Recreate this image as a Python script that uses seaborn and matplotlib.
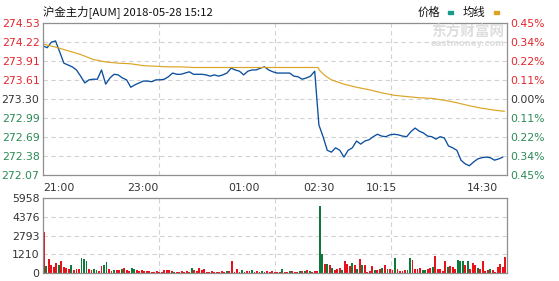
import numpy as np
import matplotlib
matplotlib.use("Agg")
import matplotlib.pyplot as plt
from matplotlib.patches import Rectangle
import seaborn as sns

# ---------------- data ----------------
title_text = "沪金主力[AUM] 2018-05-28 15:12"
legend_labels = ["价格", "均线"]

# minutes since 21:00 on the compressed trading-time axis (555 minutes)
price_minutes = list(range(0, 551, 5))
price = [
    274.16, 274.13, 274.22, 274.24, 274.06, 273.88, 273.85, 273.82, 273.77, 273.67,
    273.56, 273.61, 273.62, 273.62, 273.77, 273.54, 273.64, 273.70, 273.69, 273.64,
    273.61, 273.49, 273.53, 273.56, 273.59, 273.59, 273.58, 273.61, 273.61, 273.62,
    273.66, 273.72, 273.70, 273.70, 273.72, 273.74, 273.70, 273.70, 273.70, 273.69,
    273.67, 273.69, 273.67, 273.69, 273.72, 273.80, 273.77, 273.75, 273.69, 273.75,
    273.77, 273.77, 273.80, 273.82, 273.77, 273.74, 273.72, 273.72, 273.72, 273.72,
    273.67, 273.66, 273.62, 273.64, 273.67, 273.75, 272.88, 272.69, 272.47, 272.44,
    272.51, 272.47, 272.36, 272.47, 272.51, 272.62, 272.57, 272.62, 272.64, 272.69,
    272.73, 272.70, 272.69, 272.72, 272.73, 272.72, 272.70, 272.69, 272.77, 272.83,
    272.78, 272.75, 272.70, 272.69, 272.65, 272.69, 272.67, 272.54, 272.51, 272.47,
    272.31, 272.25, 272.22, 272.28, 272.33, 272.35, 272.36, 272.35, 272.31, 272.33,
    272.36,
]

avg_minutes = [0, 15, 30, 45, 60, 75, 90, 105, 120, 135, 150, 165, 180, 240, 300,
               329, 331, 338, 345, 360, 375, 390, 405, 420, 435, 450, 465, 480,
               495, 510, 525, 540, 552]
avg_price = [274.19, 274.14, 274.08, 274.02, 273.94, 273.90, 273.88, 273.87, 273.84,
             273.83, 273.82, 273.82, 273.81, 273.81, 273.81,
             273.81, 273.76, 273.67, 273.61, 273.54, 273.49, 273.45, 273.40, 273.36,
             273.34, 273.32, 273.31, 273.28, 273.24, 273.19, 273.15, 273.12, 273.10]

vol_minutes = list(range(1, 555, 3))
volume = [
    3260, 580, 1090, 660, 480, 820, 610, 930, 480, 400,
    345, 660, 210, 345, 290, 1190, 1140, 930, 345, 265,
    290, 210, 130, 530, 660, 850, 345, 130, 210, 265,
    210, 345, 400, 265, 130, 420, 345, 265, 130, 265,
    185, 130, 185, 80, 100, 130, 80, 80, 210, 210,
    265, 130, 100, 100, 60, 130, 60, 130, 80, 420,
    210, 130, 400, 210, 290, 80, 80, 130, 80, 60,
    80, 130, 100, 130, 185, 930, 80, 345, 80, 265,
    80, 130, 130, 210, 60, 130, 80, 130, 80, 130,
    60, 130, 60, 60, 60, 290, 60, 60, 130, 160,
    80, 80, 130, 185, 130, 240, 130, 80, 130, 130,
    5300, 1540, 740, 740, 610, 420, 210, 345, 400, 265,
    930, 740, 560, 800, 610, 345, 1090, 610, 610, 80,
    130, 530, 265, 210, 345, 400, 610, 345, 290, 265,
    1190, 345, 160, 130, 265, 210, 1190, 1060, 345, 345,
    400, 265, 265, 345, 400, 480, 1350, 290, 345, 130,
    930, 480, 530, 480, 345, 1010, 930, 930, 610, 930,
    345, 800, 610, 400, 345, 930, 130, 265, 345, 210,
    80, 480, 740, 480, 1270,
]
vol_dir = list(
    "rgrrrrgrrr" "rgrrrgggrr" "ggrrggrrgr" "rgrrrggrrr" "rrrrrrrrrr"
    "rrgrrrrrrg" "rrrrrrrrrr" "rrrgrrrrrg" "rrrgrrrgrr" "rrrrrgrrgr"
    "rrgrgrgrrr" "ggrgrgrrrg" "rrrgrgrgrr" "rrgrrgrgrr" "grrrrggrrr"
    "rggrrgrrrr" "rgrrrgggrg" "rrrgrrrrgr" "rrrrr"
)

price_tick_labels = ["272.07", "272.38", "272.69", "272.99", "273.30",
                     "273.61", "273.91", "274.22", "274.53"]
pct_tick_labels = ["0.45%", "0.34%", "0.22%", "0.11%", "0.00%",
                   "0.11%", "0.22%", "0.34%", "0.45%"]
vol_tick_labels = ["0", "1210", "2793", "4376", "5958"]
time_tick_minutes = [0, 120, 240, 330, 405, 525]
time_tick_labels = ["21:00", "23:00", "01:00", "02:30", "10:15", "14:30"]

# ---------------- style ----------------
sns.set_style("white")
plt.rcParams["font.family"] = ["DejaVu Sans"]
CJK = ["Noto Sans CJK SC", "DejaVu Sans"]

BLUE = "#0b4f9e"
GOLD = "#dba424"
RED = "#e8121b"
GREEN = "#0d7a3c"
TXT_RED = "#e3262c"
TXT_GREEN = "#2b8a55"
TXT_DARK = "#333333"
SPINE = "#8f8f8f"
GRID = "#d2d2d2"
DASH = (0, (4, 3))

W, H = 559, 281
fig = plt.figure(figsize=(W / 100, H / 100), dpi=100)


def rect(l, t, r, b):
    return [l / W, 1 - b / H, (r - l) / W, (b - t) / H]


ax = fig.add_axes(rect(43, 23, 507, 175))
axv = fig.add_axes(rect(43, 198, 507, 273))

XMAX = 555
quarters = [XMAX / 4, XMAX / 2, 3 * XMAX / 4]

# ---------- price panel ----------
sns.lineplot(x=price_minutes, y=price, ax=ax, color=BLUE, lw=0.95)
sns.lineplot(x=avg_minutes, y=avg_price, ax=ax, color=GOLD, lw=0.85)

pt_vals = [float(s) for s in price_tick_labels]
ax.set_xlim(0, XMAX)
ax.set_ylim(pt_vals[0], pt_vals[-1])
ax.set_yticks(pt_vals)
ax.set_yticklabels(price_tick_labels)
ax.set_xticks(quarters)
ax.set_xticklabels([])
ax.set_xticks(time_tick_minutes, minor=True)
ax.set_xticklabels(time_tick_labels, minor=True)
ax.grid(True, which="major", ls=DASH, color=GRID, lw=0.8)
ax.tick_params(axis="both", which="both", length=0)
ax.tick_params(axis="y", pad=2.5, labelsize=7.8)
ax.tick_params(axis="x", which="minor", pad=5.5, labelsize=7.8, labelcolor=TXT_DARK)
xl = ax.get_xticklabels(minor=True)
xl[0].set_ha("left")
for i, t in enumerate(ax.get_yticklabels()):
    t.set_color(TXT_GREEN if i < 4 else (TXT_DARK if i == 4 else TXT_RED))
for s in ax.spines.values():
    s.set_color(SPINE)
    s.set_linewidth(0.9)

ax2 = ax.twinx()
ax2.set_ylim(pt_vals[0], pt_vals[-1])
ax2.set_yticks(pt_vals)
ax2.set_yticklabels(pct_tick_labels)
ax2.tick_params(axis="y", length=0, pad=2.5, labelsize=7.8)
for i, t in enumerate(ax2.get_yticklabels()):
    t.set_color(TXT_GREEN if i < 4 else (TXT_DARK if i == 4 else TXT_RED))
for s in ax2.spines.values():
    s.set_visible(False)

# ---------- volume panel ----------
sns.barplot(x=vol_minutes, y=volume, hue=vol_dir, palette={"r": RED, "g": GREEN},
            native_scale=True, dodge=False, width=0.75, saturation=1,
            errorbar=None, legend=False, ax=axv, linewidth=0)
axv.set_xlim(0, XMAX)
axv.set_ylim(0, 5958)
axv.set_yticks(np.linspace(0, 5958, 5))
axv.set_yticklabels(vol_tick_labels)
axv.set_xticks(quarters)
axv.set_xticklabels([])
axv.grid(True, which="major", ls=DASH, color=GRID, lw=0.8)
axv.set_axisbelow(True)
axv.tick_params(axis="both", length=0)
axv.tick_params(axis="y", pad=2.5, labelsize=7.8, labelcolor=TXT_DARK)
axv.set_xlabel("")
axv.set_ylabel("")
for s in axv.spines.values():
    s.set_color(SPINE)
    s.set_linewidth(0.9)

# ---------- header texts ----------
fig.text(43 / W, 1 - 12 / H, title_text, family=CJK, fontsize=8.2,
         color="#111111", ha="left", va="center")
fig.text(418 / W, 1 - 12 / H, legend_labels[0], family=CJK, fontsize=8.2,
         color="#111111", ha="left", va="center")
fig.text(463 / W, 1 - 12 / H, legend_labels[1], family=CJK, fontsize=8.2,
         color="#111111", ha="left", va="center")
fig.patches.append(Rectangle((448 / W, 1 - 13.5 / H), 5 / W, 3 / H,
                             transform=fig.transFigure, color="#17998c"))
fig.patches.append(Rectangle((494 / W, 1 - 13.5 / H), 5 / W, 3 / H,
                             transform=fig.transFigure, color=GOLD))

# watermark
fig.text(468 / W, 1 - 32 / H, "东方财富网", family=CJK, fontsize=10.5,
         weight="bold", color="#dedede", ha="center", va="center", zorder=0)
fig.text(468 / W, 1 - 43 / H, "eastmoney.com", fontsize=6, weight="bold",
         color="#dedede", ha="center", va="center", zorder=0)

fig.savefig("out.png", dpi=100)
